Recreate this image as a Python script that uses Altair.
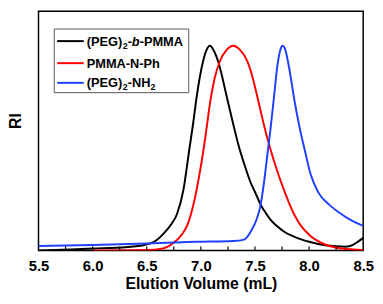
import altair as alt
import pandas as pd

# ---- data ----
black_x = [5.5, 5.8, 6.0, 6.26, 6.47, 6.59, 6.68, 6.73, 6.78, 6.84, 6.89, 6.93, 6.96, 7.02, 7.05,
           7.085, 7.12, 7.16, 7.24, 7.30, 7.35, 7.40, 7.46, 7.51, 7.555, 7.6, 7.645, 7.7, 7.77,
           7.85, 7.92, 8.01, 8.15, 8.25, 8.33, 8.38, 8.44, 8.5]
black_y = [0, 1, 2, 3, 5.3, 10.3, 20, 27, 37, 62, 100, 130, 155, 192, 203,
           208, 203, 192, 156, 128, 106, 88, 69, 57, 46, 38, 31, 25, 19,
           14.5, 11.5, 8.5, 5.2, 4.2, 3.8, 4.5, 8, 12.7]

red_x = [6.0, 6.2, 6.5, 6.65, 6.74, 6.83, 6.88, 6.93, 6.98, 7.02, 7.05, 7.085, 7.13, 7.175, 7.24,
         7.30, 7.36, 7.43, 7.48, 7.52, 7.56, 7.6, 7.645, 7.69, 7.736, 7.78, 7.827, 7.87, 7.918,
         8.01, 8.15, 8.3, 8.5]
red_y = [0, 0, 0.3, 2, 7, 17, 27, 46, 73, 99, 122, 150, 176, 192, 204,
         208, 204, 192, 175, 157, 138, 120, 102, 86, 71, 58, 45, 35, 26,
         15, 6, 2, 0.5]

blue_x = [5.5, 6.0, 6.5, 6.95, 7.3, 7.4, 7.46, 7.52, 7.55, 7.58, 7.61, 7.64, 7.675, 7.71, 7.735,
          7.755, 7.78, 7.81, 7.87, 7.918, 7.96, 8.01, 8.085, 8.18, 8.27, 8.4, 8.5]
blue_y = [4.5, 5.5, 7, 8.7, 9.5, 11, 19, 33, 45, 66, 93, 120, 155, 190, 204,
          208, 204, 189, 149, 122, 102, 79, 59, 47, 39, 30, 25]

series_names = ["(PEG)2-b-PMMA", "PMMA-N-Ph", "(PEG)2-NH2"]
series_colors = ["#000000", "#ff0000", "#1f40ff"]

x_ticks = [5.5, 6.0, 6.5, 7.0, 7.5, 8.0, 8.5]
minor_ticks = [5.75, 6.0, 6.25, 6.5, 6.75, 7.0, 7.25, 7.5, 7.75, 8.0, 8.25]

x_title = "Elution Volume (mL)"
y_title = "RI"

# ---- build table ----
rows = []
for name, xs, ys in zip(series_names, [black_x, red_x, blue_x], [black_y, red_y, blue_y]):
    for i, (a, b) in enumerate(zip(xs, ys)):
        rows.append({"series": name, "x": a, "y": b, "order": i})
df = pd.DataFrame(rows)

W, H = 330, 243
FONT = "Liberation Sans"

xscale = alt.Scale(domain=[5.5, 8.5], nice=False, zero=False)
yscale = alt.Scale(domain=[0, H], nice=False, zero=False)

lines = alt.Chart(df).mark_line(strokeWidth=2, interpolate="monotone", clip=True).encode(
    x=alt.X("x:Q", scale=xscale,
            axis=alt.Axis(title=x_title, values=x_ticks, format=".1f", grid=False, ticks=False,
                          tickSize=0, domain=False, labelFlush=False, labelFont=FONT,
                          labelFontSize=15, labelFontWeight="bold", labelColor="#000",
                          labelPadding=8, titleFont=FONT, titleFontSize=16,
                          titleFontWeight="bold", titleColor="#000", titlePadding=3)),
    y=alt.Y("y:Q", scale=yscale,
            axis=alt.Axis(title=y_title, labels=False, ticks=False, domain=False, grid=False,
                          titleFont=FONT, titleFontSize=16, titleFontWeight="bold",
                          titleColor="#000", titleAngle=-90, titleAlign="center",
                          titleBaseline="alphabetic", titleX=-18, titleY=111)),
    color=alt.Color("series:N", scale=alt.Scale(domain=series_names, range=series_colors), legend=None),
    order="order:Q",
)

ticks = alt.Chart(pd.DataFrame({"t": minor_ticks})).mark_rule(color="#000", strokeWidth=1.2).encode(
    x=alt.X("t:Q", scale=xscale),
    y=alt.value(H),
    y2=alt.value(H - 4),
)

dummy = pd.DataFrame({"a": [0]})

legend_box = alt.Chart(dummy).mark_rect(fill="white", stroke="#555", strokeWidth=1).encode(
    x=alt.value(16), x2=alt.value(152.7), y=alt.value(18), y2=alt.value(82.7)
)

row_y = [30.3, 52.7, 72.7]
layers = [lines, ticks, legend_box]
for c, ry in zip(series_colors, row_y):
    layers.append(alt.Chart(dummy).mark_rule(color=c, strokeWidth=2).encode(
        x=alt.value(19), x2=alt.value(46), y=alt.value(ry)))


def txt(s, x, y, size=13, italic=False):
    kw = dict(font=FONT, fontSize=size, fontWeight="bold", align="left",
              baseline="alphabetic", color="#000")
    if italic:
        kw["fontStyle"] = "italic"
    return alt.Chart(dummy).mark_text(**kw).encode(
        x=alt.value(x), y=alt.value(y), text=alt.value(s))


tx = 49
b1 = row_y[0] + 4.6
b2 = row_y[1] + 4.6
b3 = row_y[2] + 4.6
# row 1: (PEG)2-b-PMMA
layers += [txt("(PEG)", tx, b1), txt("2", tx + 36.6, b1 + 3, size=9), txt("-", tx + 41.6, b1),
           txt("b", tx + 45.9, b1, italic=True), txt("-PMMA", tx + 53.8, b1)]
# row 2
layers += [txt("PMMA-N-Ph", tx, b2)]
# row 3: (PEG)2-NH2
layers += [txt("(PEG)", tx, b3), txt("2", tx + 36.6, b3 + 3, size=9), txt("-NH", tx + 41.6, b3),
           txt("2", tx + 64.9, b3 + 3, size=9)]

chart = alt.layer(*layers).properties(
    width=W, height=H, autosize=alt.AutoSizeParams(type="none"),
    padding={"left": 31, "top": 1, "right": 12, "bottom": 45},
).configure_view(stroke="#000", strokeWidth=1.5)

chart.save("out.html", embed_options={"renderer": "svg", "actions": False})
